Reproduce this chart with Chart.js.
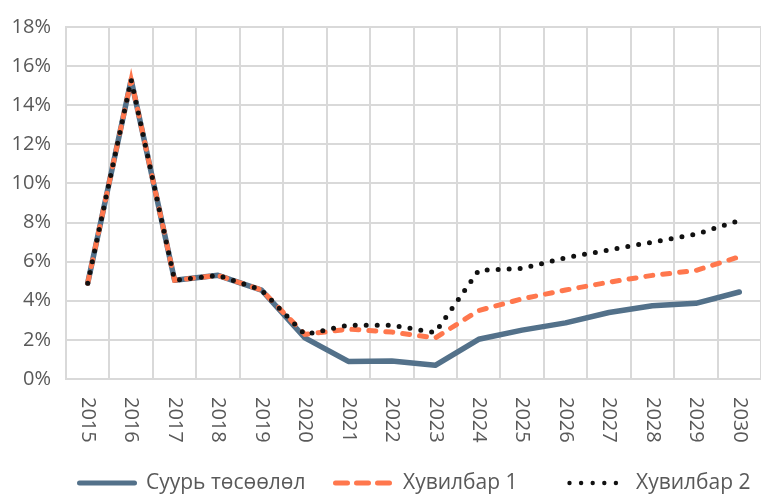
<!DOCTYPE html>
<html>
<head>
<meta charset="utf-8">
<script src="https://cdn.jsdelivr.net/npm/chart.js@4"></script>
<style>
html,body{margin:0;padding:0;background:#fff;}
#wrap{width:761px;height:500px;position:relative;}
</style>
</head>
<body>
<div id="wrap"><canvas id="c" width="761" height="500"></canvas></div>
<script>
const years = ['2015','2016','2017','2018','2019','2020','2021','2022','2023','2024','2025','2026','2027','2028','2029','2030'];
const baseSeries = [4.9, 15.3, 5.05, 5.3, 4.55, 2.1, 0.9, 0.92, 0.7, 2.03, 2.5, 2.87, 3.4, 3.75, 3.87, 4.45];
const variant1 = [4.9, 15.3, 5.05, 5.3, 4.55, 2.28, 2.55, 2.4, 2.1, 3.5, 4.1, 4.55, 4.95, 5.3, 5.55, 6.25];
const variant2 = [4.9, 15.3, 5.05, 5.3, 4.55, 2.28, 2.75, 2.75, 2.37, 5.55, 5.65, 6.2, 6.6, 7.0, 7.4, 8.1];
const seriesNames = ['Суурь төсөөлөл', 'Хувилбар 1', 'Хувилбар 2'];
const yTicks = [0, 2, 4, 6, 8, 10, 12, 14, 16, 18];

const FONT = '"Open Sans", "Noto Sans", sans-serif';
const TXT = '#595959';
const GRID = '#d9d9d9';
const C_BASE = '#53718A';
const C_V1 = '#FF774D';
const C_V2 = '#111111';

const customDraw = {
  id: 'customDraw',
  afterDraw(chart) {
    const ctx = chart.ctx;
    const xs = chart.scales.x;
    const area = chart.chartArea;
    ctx.save();
    ctx.fillStyle = TXT;
    ctx.font = '20px ' + FONT;
    ctx.textAlign = 'left';
    ctx.textBaseline = 'middle';
    years.forEach((y, i) => {
      const px = xs.getPixelForValue(i);
      ctx.save();
      ctx.translate(px, area.bottom + 18);
      ctx.rotate(Math.PI / 2);
      ctx.fillText(y, 0, 0);
      ctx.restore();
    });
    // legend
    const ly = 483;
    ctx.lineWidth = 5;
    ctx.lineCap = 'round';
    ctx.strokeStyle = C_BASE;
    ctx.setLineDash([]);
    ctx.beginPath(); ctx.moveTo(79.5, ly); ctx.lineTo(134.5, ly); ctx.stroke();
    ctx.strokeStyle = C_V1;
    ctx.setLineDash([12, 9]);
    ctx.beginPath(); ctx.moveTo(335.5, ly); ctx.lineTo(390, ly); ctx.stroke();
    ctx.setLineDash([]);
    ctx.fillStyle = C_V2;
    for (let k = 0; k < 5; k++) {
      ctx.beginPath(); ctx.arc(569.5 + k * 11.6, ly, 2.2, 0, Math.PI * 2); ctx.fill();
    }
    ctx.fillStyle = TXT;
    ctx.font = '21px ' + FONT;
    ctx.textBaseline = 'middle';
    ctx.fillText(seriesNames[0], 146, ly);
    ctx.fillText(seriesNames[1], 403, ly);
    ctx.fillText(seriesNames[2], 636, ly);
    ctx.restore();
  }
};

new Chart(document.getElementById('c'), {
  type: 'line',
  data: {
    labels: years,
    datasets: [
      { label: seriesNames[0], data: baseSeries, borderColor: C_BASE, borderWidth: 5.5, pointRadius: 0, tension: 0, order: 3, borderJoinStyle: 'round', borderCapStyle: 'round' },
      { label: seriesNames[1], data: variant1, borderColor: C_V1, borderWidth: 5, borderDash: [7, 10], borderCapStyle: 'round', pointRadius: 0, tension: 0, order: 2 },
      { label: seriesNames[2], data: variant2, borderColor: C_V2, borderWidth: 5, borderDash: [0, 11], borderCapStyle: 'round', pointRadius: 0, tension: 0, order: 1 }
    ]
  },
  options: {
    responsive: false,
    animation: false,
    devicePixelRatio: 1,
    layout: { padding: { top: 18, right: 0, bottom: 0, left: 0 } },
    plugins: { legend: { display: false }, tooltip: { enabled: false } },
    scales: {
      x: {
        offset: true,
        grid: { offset: true, color: GRID, lineWidth: 2, drawTicks: false },
        border: { color: GRID, width: 2 },
        ticks: { display: false },
        afterFit(s) { s.height = 121; }
      },
      y: {
        min: 0, max: 18,
        afterBuildTicks(s) { s.ticks = yTicks.map(v => ({ value: v })); },
        grid: { color: GRID, lineWidth: 2, drawTicks: false },
        border: { color: GRID, width: 2 },
        ticks: { color: TXT, font: { family: FONT, size: 20 }, padding: 15, callback: v => v + '%' },
        afterFit(s) { s.width = 66; }
      }
    }
  },
  plugins: [customDraw]
});
</script>
</body>
</html>
